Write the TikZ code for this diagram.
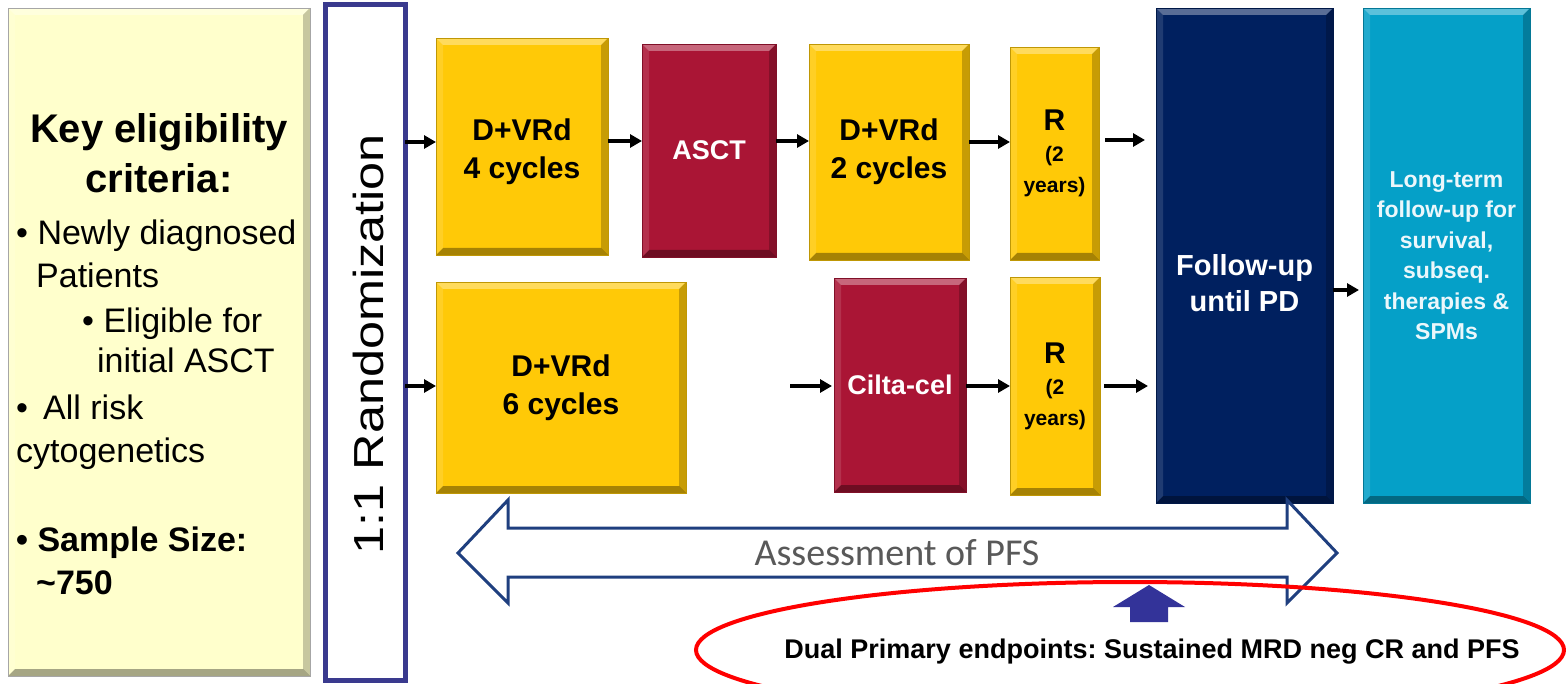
\documentclass[tikz,border=0pt]{standalone}
\usepackage{fontspec}
\setmainfont{Liberation Sans}
\newfontfamily\calib{Carlito}
\usetikzlibrary{arrows.meta,calc,shapes.geometric}

\definecolor{gold}{HTML}{FFC907}
\definecolor{crim}{HTML}{AA1535}
\definecolor{navyb}{HTML}{00205F}
\definecolor{tealb}{HTML}{05A0C8}
\definecolor{paley}{HTML}{FFFFCC}
\definecolor{randb}{HTML}{3A3A8E}
\definecolor{arrb}{HTML}{1F3F7F}
\definecolor{upb}{HTML}{333399}
\definecolor{greyt}{HTML}{595959}

\newcommand\fsz[2]{\fontsize{#1}{#2}\selectfont}

\tikzset{
  bevel/.style={fill=#1, draw=#1!75!black, line width=0.6pt, inner sep=0pt, outer sep=0pt,
    path picture={
      \path (path picture bounding box.north west) coordinate (pNW)
            (path picture bounding box.north east) coordinate (pNE)
            (path picture bounding box.south west) coordinate (pSW)
            (path picture bounding box.south east) coordinate (pSE);
      \fill[white,opacity=.35] (pNW) -- (pNE) -- ([shift={(-7pt,-7pt)}]pNE) -- ([shift={(7pt,-7pt)}]pNW) -- cycle;
      \fill[black,opacity=.35] (pSW) -- (pSE) -- ([shift={(-7pt,7pt)}]pSE) -- ([shift={(7pt,7pt)}]pSW) -- cycle;
      \fill[black,opacity=.22] (pNE) -- (pSE) -- ([shift={(-7pt,7pt)}]pSE) -- ([shift={(-7pt,-7pt)}]pNE) -- cycle;
      \fill[white,opacity=.12] (pNW) -- (pSW) -- ([shift={(7pt,7pt)}]pSW) -- ([shift={(7pt,-7pt)}]pNW) -- cycle;
    }},
  ybox/.style={bevel=gold, font=\bfseries\fsz{30}{38}, align=center, text=black},
  cbox/.style={bevel=crim, font=\bfseries\fsz{27}{32}, align=center, text=white},
  rbox/.style={bevel=gold, font=\bfseries\fsz{21}{31}, align=center, text=black},
  arr/.style={-{Triangle[length=12pt,width=13pt]}, line width=4pt, black},
  bl/.style={anchor=base west, inner sep=0pt, font=\fsz{34}{43}},
  blb/.style={anchor=base west, inner sep=0pt, font=\bfseries\fsz{34}{43}},
}

\begin{document}
\frenchspacing
\begin{tikzpicture}[x=1pt,y=-1pt]
\useasboundingbox (0,0) rectangle (1566,684);

% eligibility panel
\node[bevel=paley, draw=gray!70, minimum width=302pt, minimum height=668pt] (elig) at (159,342) {};
\node[font=\bfseries\fsz{40}{50}, align=center] (keyT) at (159,153) {Key eligibility\\criteria:};
\node[bl] (l1) at (16,245) {• Newly diagnosed};
\node[bl] (l2) at (36,288) {Patients};
\node[bl] (l3) at (82,333) {• Eligible for};
\node[bl] (l4) at (97,373) {initial ASCT};
\node[bl] (l5) at (16,420) {•\, All risk};
\node[bl] (l6) at (16,462) {cytogenetics};
\node[blb] (l7) at (16,551) {• Sample Size:};
\node[blb] (l8) at (36,594) {\textasciitilde750};

% randomization
\node[draw=randb, line width=5pt, fill=white, minimum width=80pt, minimum height=675pt, inner sep=0pt, outer sep=0pt] (rand) at (365,342.5) {};
\node[rotate=90, font=\fsz{42}{42}] (randT) at (368,344) {\scalebox{1.2}[1]{1:1 Randomization}};

% top arm
\node[ybox, minimum width=172pt, minimum height=217pt] (a1) at (522,146.5) {\raisebox{0pt}[32pt][0pt]{}D+VRd\\4 cycles};
\node[cbox, minimum width=134pt, minimum height=213pt] (a2) at (709,150.5) {ASCT};
\node[ybox, minimum width=160pt, minimum height=216pt] (a3) at (889,152) {D+VRd\\2 cycles};
\node[rbox, minimum width=89pt, minimum height=213pt] (a4) at (1054.5,153.5) {{\fsz{30}{36}R}\\(2\\years)};

% bottom arm
\node[ybox, minimum width=250pt, minimum height=211pt] (b1) at (561,387.5) {D+VRd\\6 cycles};
\node[cbox, minimum width=132pt, minimum height=214pt] (b2) at (900,385) {Cilta-cel};
\node[rbox, minimum width=90pt, minimum height=218pt] (b3) at (1055,386) {{\fsz{30}{36}R}\\(2\\years)};

% follow-up
\node[bevel=navyb, minimum width=177pt, minimum height=495pt] (fu) at (1244.5,255.5) {};
\node[font=\bfseries\fsz{29}{36}, align=center, text=white] (fuT) at (1244.5,283) {Follow-up\\until PD};
\node[bevel=tealb, minimum width=167pt, minimum height=495pt, font=\bfseries\fsz{23}{30.5}, align=center, text=white!92!tealb] (lt) at (1446.5,255.5) {Long-term\\follow-up for\\survival,\\subseq.\\therapies \&\\SPMs};

% arrows
\draw[arr] ([yshift=4.5pt]rand.east |- a1.west) -- ([yshift=4.5pt]a1.west);
\draw[arr] ([yshift=5.5pt]a1.east) -- ([yshift=5.5pt]a1.east -| a2.west);
\draw[arr] ([yshift=9.5pt]a2.east) -- ([yshift=9.5pt]a2.east -| a3.west);
\draw[arr] ([yshift=10pt]a3.east) -- ([yshift=10pt]a3.east -| a4.west);
\draw[arr, shorten <=6pt, shorten >=11pt] ([yshift=13.5pt]a4.east) -- ([yshift=13.5pt]a4.east -| fu.west);
\draw[arr] ([yshift=1.5pt]rand.east |- b1.west) -- ([yshift=1.5pt]b1.west);
\draw[arr, shorten <=104pt, shorten >=2pt] ([yshift=1.5pt]b1.east) -- ([yshift=1.5pt]b1.east -| b2.west);
\draw[arr] ([yshift=-1pt]b2.east) -- ([yshift=-1pt]b2.east -| b3.west);
\draw[arr, shorten <=4pt, shorten >=8pt] (b3.east) -- (b3.east -| fu.west);
\draw[arr, shorten >=4pt] ([yshift=-34.5pt]fu.east) -- ([yshift=-34.5pt]fu.east -| lt.west);

% assessment double arrow
\draw[arrb, line width=3pt, fill=white, line join=miter]
  (458,553) -- (508,500) -- (508,528) -- (1287,528) -- (1287,500) -- (1337,553)
  -- (1287,603) -- (1287,577) -- (508,577) -- (508,603) -- cycle;
\node[font=\calib\fsz{38}{38}, text=greyt] (pfs) at (897,553) {Assessment of PFS};

% up arrow
\fill[upb] (1149,585) -- (1185,607) -- (1168,607) -- (1168,622) -- (1130,622) -- (1130,607) -- (1113,607) -- cycle;

% endpoints
\node[ellipse, draw=red, line width=4pt, minimum width=868pt, minimum height=136pt, inner sep=0pt] (oval) at (1130,650) {};
\node[font=\bfseries\fsz{27}{27}] (dual) at (1152,652) {Dual Primary endpoints: Sustained MRD neg CR and PFS};
\end{tikzpicture}
\end{document}
